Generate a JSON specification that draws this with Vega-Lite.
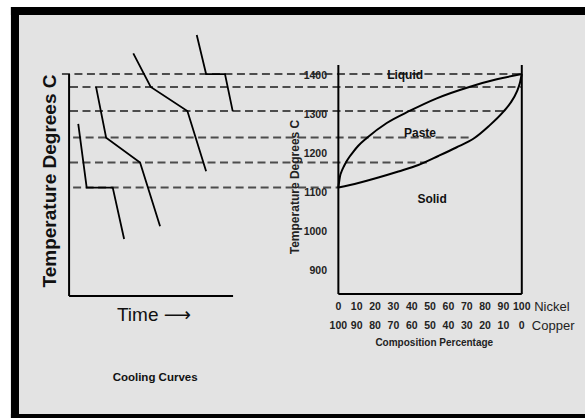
{
  "$schema": "https://vega.github.io/schema/vega-lite/v6.json",
  "width": 585,
  "height": 418,
  "autosize": {"type": "fit", "contains": "padding"},
  "padding": 0,
  "background": "white",
  "config": {"view": {"stroke": null}, "axis": null},
  "datasets": {
    "frame": [
      {"part": "inner", "x": -174.1, "x2": 134.46, "y": 1556.4, "y2": 533.3}
    ],
    "border": [
      {"side": "top", "x": -178.5, "x2": 134.46, "y": 1576.9, "y2": 1556.4},
      {"side": "left", "x": -178.5, "x2": -174.1, "y": 1576.9, "y2": 523.08},
      {"side": "bottom", "x": -178.5, "x2": 134.46, "y": 533.3, "y2": 523.08}
    ],
    "dashes": [
      {"line": 1, "x": -150.7, "x2": 99.5, "y": 1405},
      {"line": 2, "x": -146.3, "x2": 99.5, "y": 1372},
      {"line": 3, "x": -146.3, "x2": 89.8, "y": 1310},
      {"line": 4, "x": -144.6, "x2": 73.5, "y": 1242},
      {"line": 5, "x": -146.3, "x2": 48.2, "y": 1178},
      {"line": 6, "x": -144.6, "x2": 0, "y": 1114}
    ],
    "axes": [
      {"axis": "cooling-y", "x": -146.8, "x2": -146.8, "y": 1405, "y2": 835.9},
      {"axis": "cooling-x", "x": -146.8, "x2": -57.4, "y": 835.9, "y2": 835.9},
      {"axis": "phase-left", "x": 0, "x2": 0, "y": 1428.2, "y2": 841},
      {"axis": "phase-right", "x": 100, "x2": 100, "y": 1428.2, "y2": 841},
      {"axis": "phase-bottom", "x": 0, "x2": 100, "y": 841, "y2": 841}
    ],
    "cooling": [
      {"curve": "A", "i": 0, "x": -141.8, "y": 1277},
      {"curve": "A", "i": 1, "x": -137.2, "y": 1114},
      {"curve": "A", "i": 2, "x": -123.0, "y": 1114},
      {"curve": "A", "i": 3, "x": -116.8, "y": 982},
      {"curve": "B", "i": 0, "x": -132.1, "y": 1372},
      {"curve": "B", "i": 1, "x": -126.6, "y": 1242},
      {"curve": "B", "i": 2, "x": -108.1, "y": 1178},
      {"curve": "B", "i": 3, "x": -97.2, "y": 1015},
      {"curve": "C", "i": 0, "x": -111.8, "y": 1458},
      {"curve": "C", "i": 1, "x": -102.3, "y": 1372},
      {"curve": "C", "i": 2, "x": -82.3, "y": 1310},
      {"curve": "C", "i": 3, "x": -72.1, "y": 1156},
      {"curve": "D", "i": 0, "x": -77.2, "y": 1505},
      {"curve": "D", "i": 1, "x": -72.1, "y": 1405},
      {"curve": "D", "i": 2, "x": -61.8, "y": 1405},
      {"curve": "D", "i": 3, "x": -57.6, "y": 1310}
    ],
    "phase": [
      {"curve": "liquidus", "x": 0, "y": 1114},
      {"curve": "liquidus", "x": 0.93, "y": 1143.6},
      {"curve": "liquidus", "x": 1.85, "y": 1156.4},
      {"curve": "liquidus", "x": 3.11, "y": 1169.2},
      {"curve": "liquidus", "x": 4.58, "y": 1182.1},
      {"curve": "liquidus", "x": 6.38, "y": 1194.9},
      {"curve": "liquidus", "x": 8.02, "y": 1205.1},
      {"curve": "liquidus", "x": 10.74, "y": 1220.5},
      {"curve": "liquidus", "x": 15.49, "y": 1241.0},
      {"curve": "liquidus", "x": 26.39, "y": 1279.5},
      {"curve": "liquidus", "x": 39.09, "y": 1311.0},
      {"curve": "liquidus", "x": 53.65, "y": 1342.8},
      {"curve": "liquidus", "x": 71.81, "y": 1372.6},
      {"curve": "liquidus", "x": 86.37, "y": 1391.5},
      {"curve": "liquidus", "x": 100, "y": 1405},
      {"curve": "solidus", "x": 0, "y": 1114},
      {"curve": "solidus", "x": 10.9, "y": 1125.6},
      {"curve": "solidus", "x": 21.8, "y": 1139.7},
      {"curve": "solidus", "x": 32.7, "y": 1155.1},
      {"curve": "solidus", "x": 43.6, "y": 1171.8},
      {"curve": "solidus", "x": 54.5, "y": 1194.9},
      {"curve": "solidus", "x": 64.3, "y": 1216.7},
      {"curve": "solidus", "x": 74.0, "y": 1240.3},
      {"curve": "solidus", "x": 81.8, "y": 1270.5},
      {"curve": "solidus", "x": 90.0, "y": 1308.5},
      {"curve": "solidus", "x": 93.8, "y": 1330.8},
      {"curve": "solidus", "x": 97.3, "y": 1359.7},
      {"curve": "solidus", "x": 98.96, "y": 1382},
      {"curve": "solidus", "x": 100, "y": 1405}
    ],
    "yticks": [
      {"value": 1400}, {"value": 1300}, {"value": 1200},
      {"value": 1100}, {"value": 1000}, {"value": 900}
    ],
    "xticks": [
      {"nickel": 0, "copper": 100}, {"nickel": 10, "copper": 90},
      {"nickel": 20, "copper": 80}, {"nickel": 30, "copper": 70},
      {"nickel": 40, "copper": 60}, {"nickel": 50, "copper": 50},
      {"nickel": 60, "copper": 40}, {"nickel": 70, "copper": 30},
      {"nickel": 80, "copper": 20}, {"nickel": 90, "copper": 10},
      {"nickel": 100, "copper": 0}
    ],
    "regions": [
      {"label": "Liquid", "x": 36.4, "y": 1403},
      {"label": "Paste", "x": 44.5, "y": 1254},
      {"label": "Solid", "x": 51.1, "y": 1085}
    ],
    "metals": [
      {"label": "Nickel", "x": 116.4, "y": 807.7},
      {"label": "Copper", "x": 117.1, "y": 759}
    ]
  },
  "encoding": {
    "x": {"type": "quantitative", "scale": {"domain": [-184.46, 134.46], "nice": false, "zero": false}, "axis": null},
    "y": {"type": "quantitative", "scale": {"domain": [523.08, 1594.87], "nice": false, "zero": false}, "axis": null}
  },
  "layer": [
    {
      "data": {"name": "border"},
      "mark": {"type": "rect", "color": "#000000", "clip": true},
      "encoding": {
        "x": {"field": "x", "type": "quantitative"},
        "x2": {"field": "x2"},
        "y": {"field": "y", "type": "quantitative"},
        "y2": {"field": "y2"}
      }
    },
    {
      "data": {"name": "frame"},
      "mark": {"type": "rect", "fill": "#e3e3e3", "clip": true},
      "encoding": {
        "x": {"field": "x", "type": "quantitative"},
        "x2": {"field": "x2"},
        "y": {"field": "y", "type": "quantitative"},
        "y2": {"field": "y2"}
      }
    },
    {
      "data": {"name": "dashes"},
      "mark": {"type": "rule", "color": "#4d4d4d", "strokeWidth": 2, "strokeDash": [8, 4.5], "clip": true},
      "encoding": {
        "x": {"field": "x", "type": "quantitative"},
        "x2": {"field": "x2"},
        "y": {"field": "y", "type": "quantitative"}
      }
    },
    {
      "data": {"name": "axes"},
      "mark": {"type": "rule", "color": "#000000", "strokeWidth": 2, "clip": true},
      "encoding": {
        "x": {"field": "x", "type": "quantitative"},
        "x2": {"field": "x2"},
        "y": {"field": "y", "type": "quantitative"},
        "y2": {"field": "y2"}
      }
    },
    {
      "data": {"name": "cooling"},
      "mark": {"type": "line", "color": "#000000", "strokeWidth": 1.8, "clip": true},
      "encoding": {
        "x": {"field": "x", "type": "quantitative"},
        "y": {"field": "y", "type": "quantitative"},
        "detail": {"field": "curve", "type": "nominal"},
        "order": {"field": "i", "type": "quantitative"}
      }
    },
    {
      "data": {"name": "phase"},
      "mark": {"type": "line", "color": "#000000", "strokeWidth": 2, "interpolate": "monotone", "clip": true},
      "encoding": {
        "x": {"field": "x", "type": "quantitative"},
        "y": {"field": "y", "type": "quantitative"},
        "detail": {"field": "curve", "type": "nominal"}
      }
    },
    {
      "data": {"name": "yticks"},
      "mark": {"type": "text", "align": "right", "baseline": "middle", "font": "Liberation Sans, Arial, sans-serif", "fontWeight": "bold", "fontSize": 10.5, "color": "#222222", "clip": true},
      "encoding": {
        "x": {"datum": -6.2},
        "y": {"field": "value", "type": "quantitative"},
        "text": {"field": "value", "type": "quantitative"}
      }
    },
    {
      "data": {"name": "xticks"},
      "mark": {"type": "text", "align": "center", "baseline": "middle", "font": "Liberation Sans, Arial, sans-serif", "fontWeight": "bold", "fontSize": 10.5, "color": "#222222", "clip": true},
      "encoding": {
        "x": {"field": "nickel", "type": "quantitative"},
        "y": {"datum": 807.7},
        "text": {"field": "nickel", "type": "quantitative"}
      }
    },
    {
      "data": {"name": "xticks"},
      "mark": {"type": "text", "align": "center", "baseline": "middle", "font": "Liberation Sans, Arial, sans-serif", "fontWeight": "bold", "fontSize": 10.5, "color": "#222222", "clip": true},
      "encoding": {
        "x": {"field": "nickel", "type": "quantitative"},
        "y": {"datum": 759},
        "text": {"field": "copper", "type": "quantitative"}
      }
    },
    {
      "data": {"name": "metals"},
      "mark": {"type": "text", "align": "center", "baseline": "middle", "font": "Liberation Sans, Arial, sans-serif", "fontSize": 13, "color": "#222222", "clip": true},
      "encoding": {
        "x": {"field": "x", "type": "quantitative"},
        "y": {"field": "y", "type": "quantitative"},
        "text": {"field": "label", "type": "nominal"}
      }
    },
    {
      "data": {"name": "regions"},
      "mark": {"type": "text", "align": "center", "baseline": "middle", "font": "Liberation Sans, Arial, sans-serif", "fontWeight": "bold", "fontSize": 12, "color": "#111111", "clip": true},
      "encoding": {
        "x": {"field": "x", "type": "quantitative"},
        "y": {"field": "y", "type": "quantitative"},
        "text": {"field": "label", "type": "nominal"}
      }
    },
    {
      "data": {"values": [{"label": "Composition Percentage", "x": 52.3, "y": 715.4}]},
      "mark": {"type": "text", "align": "center", "baseline": "middle", "font": "Liberation Sans, Arial, sans-serif", "fontWeight": "bold", "fontSize": 10, "color": "#222222", "clip": true},
      "encoding": {
        "x": {"field": "x", "type": "quantitative"},
        "y": {"field": "y", "type": "quantitative"},
        "text": {"field": "label", "type": "nominal"}
      }
    },
    {
      "data": {"values": [{"label": "Temperature Degrees C", "x": -23.6, "y": 1115.4}]},
      "mark": {"type": "text", "align": "center", "baseline": "middle", "angle": 270, "font": "Liberation Sans, Arial, sans-serif", "fontWeight": "bold", "fontSize": 12, "color": "#222222", "clip": true},
      "encoding": {
        "x": {"field": "x", "type": "quantitative"},
        "y": {"field": "y", "type": "quantitative"},
        "text": {"field": "label", "type": "nominal"}
      }
    },
    {
      "data": {"values": [{"label": "Temperature Degrees C", "x": -157.2, "y": 1130.8}]},
      "mark": {"type": "text", "align": "center", "baseline": "middle", "angle": 270, "font": "Liberation Sans, Arial, sans-serif", "fontWeight": "bold", "fontSize": 19, "color": "#111111", "clip": true},
      "encoding": {
        "x": {"field": "x", "type": "quantitative"},
        "y": {"field": "y", "type": "quantitative"},
        "text": {"field": "label", "type": "nominal"}
      }
    },
    {
      "data": {"values": [{"label": "Time ⟶", "x": -120.7, "y": 787.2}]},
      "mark": {"type": "text", "align": "left", "baseline": "middle", "font": "Liberation Sans, DejaVu Sans, sans-serif", "fontSize": 19, "color": "#111111", "clip": true},
      "encoding": {
        "x": {"field": "x", "type": "quantitative"},
        "y": {"field": "y", "type": "quantitative"},
        "text": {"field": "label", "type": "nominal"}
      }
    },
    {
      "data": {"values": [{"label": "Cooling Curves", "x": -99.9, "y": 625.6}]},
      "mark": {"type": "text", "align": "center", "baseline": "middle", "font": "Liberation Sans, Arial, sans-serif", "fontWeight": "bold", "fontSize": 11.5, "color": "#111111", "clip": true},
      "encoding": {
        "x": {"field": "x", "type": "quantitative"},
        "y": {"field": "y", "type": "quantitative"},
        "text": {"field": "label", "type": "nominal"}
      }
    }
  ]
}
